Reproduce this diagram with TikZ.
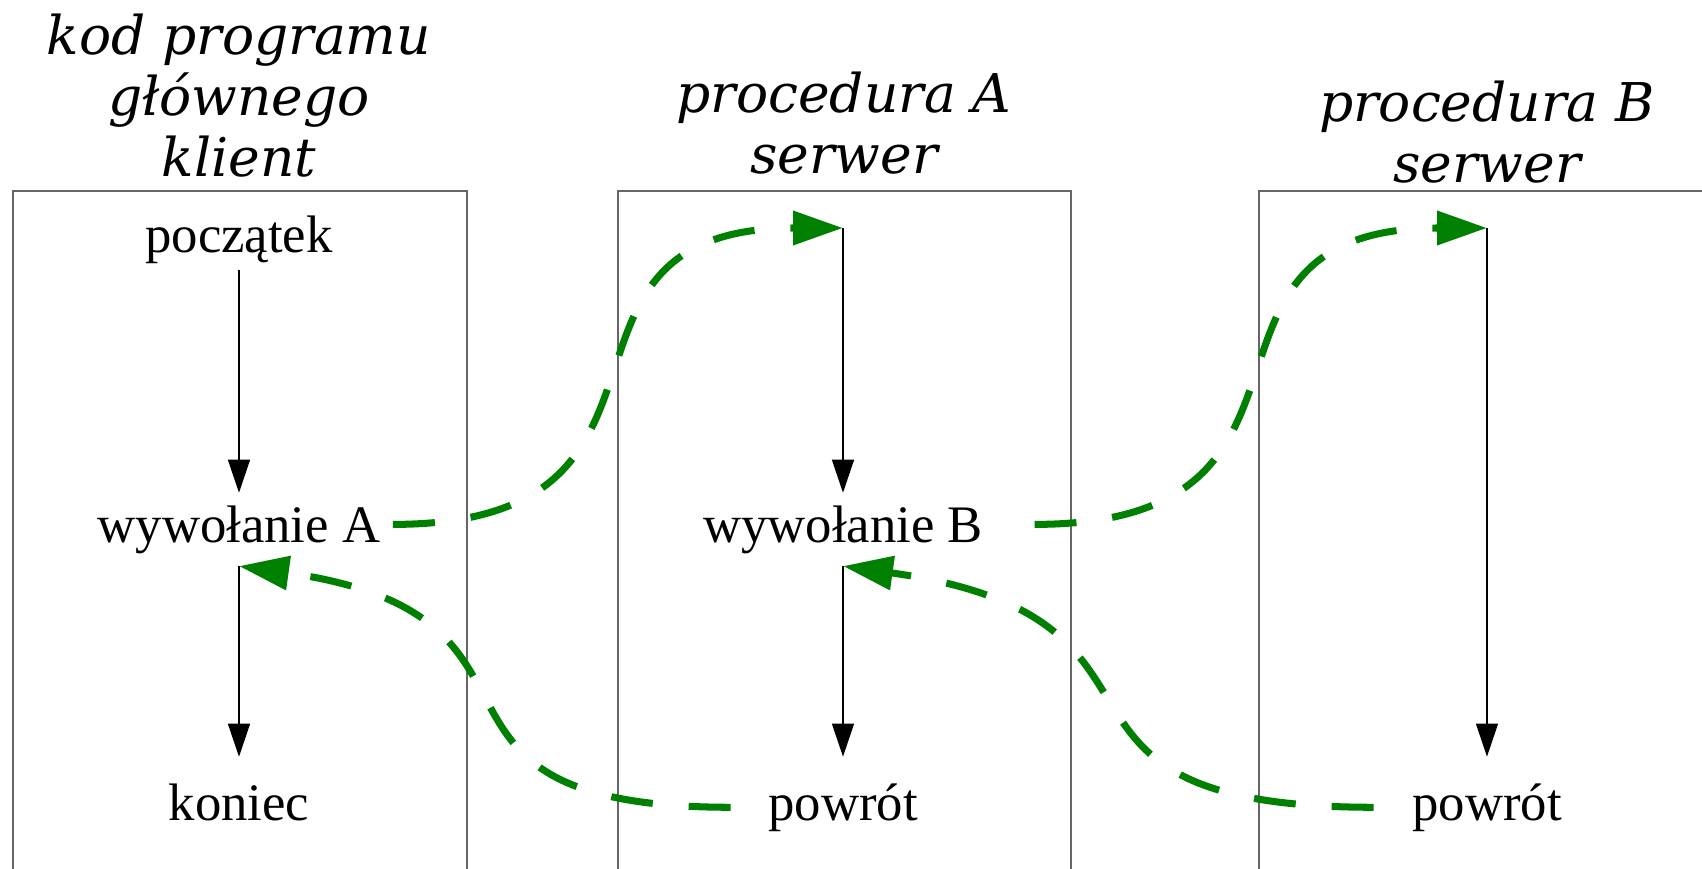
\documentclass[tikz,border=0pt]{standalone}
\usepackage{fontspec}
\setmainfont{Liberation Serif}
\newfontfamily\titlefont{DejaVu Serif}
\usetikzlibrary{arrows.meta}

\begin{document}
\begin{tikzpicture}[
        x=1cm, y=1cm,
        font=\fontsize{15}{18}\selectfont
    ]
    \tikzset{
        box/.style = {draw=black!60, line width=0.4pt},
        heading/.style = {anchor=south, align=center, inner sep=0pt, font=\titlefont\itshape\fontsize{15.2}{17.4}\selectfont},
        stmt/.style = {anchor=base, inner xsep=0.12cm, inner ysep=0.12cm},
        flow/.style = {-{Triangle[length=0.33cm,width=0.22cm]}, line width=0.4pt},
        call/.style = {-{Triangle[length=0.5cm,width=0.33cm]}, green!50!black, line width=2pt, dash pattern=on 0.42cm off 0.36cm},
    }
    \clip (0,0) rectangle (17.02,8.68);
    % naglowki
    \node[heading] (tKlient) at (2.39,6.90) {kod programu\\głównego\\klient};
    \node[heading] (tProcA) at (8.44,6.93) {procedura A\\serwer};
    \node[heading] (tProcB) at (14.87,6.84) {procedura B\\serwer};
    % ramki
    \draw[box] (0.13,-0.5) rectangle (4.67,6.77);
    \draw[box] (6.18,-0.5) rectangle (10.71,6.77);
    \draw[box] (12.59,-0.5) rectangle (17.5,6.77);
    % instrukcje
    \node[stmt] (poczatek) at (2.39,6.16) {początek};
    \node[stmt] (wywA) at (2.39,3.26) {wywołanie A};
    \node[stmt] (koniec) at (2.39,0.48) {koniec};
    \node[stmt] (wywB) at (8.43,3.26) {wywołanie B};
    \node[stmt] (powrotA) at (8.43,0.48) {powrót};
    \node[stmt] (powrotB) at (14.87,0.48) {powrót};
    \coordinate (wejscieA) at (8.43,6.40);
    \coordinate (wejscieB) at (14.87,6.40);
    % przeplyw
    \draw[flow] ([yshift=0.06cm]poczatek.south) -- (wywA.north);
    \draw[flow,shorten >=0.14cm] (wywA.south) -- (koniec.north);
    \draw[flow] (wejscieA) -- (wywB.north);
    \draw[flow,shorten >=0.14cm] (wywB.south) -- (powrotA.north);
    \draw[flow,shorten >=0.14cm] (wejscieB) -- (powrotB.north);
    % wywolania i powroty
    \draw[call] ([yshift=0.05cm]wywA.east) to[out=0,in=180,looseness=1.55] (wejscieA);
    \draw[call] ([xshift=0.39cm,yshift=0.05cm]wywB.east) to[out=0,in=180,looseness=1.55] (wejscieB);
    \draw[call] ([xshift=-0.25cm]powrotA.west) to[out=180,in=-8,looseness=1.65] (wywA.south);
    \draw[call] ([xshift=-0.26cm]powrotB.west) to[out=180,in=-8,looseness=1.65] (wywB.south);
\end{tikzpicture}
\end{document}
